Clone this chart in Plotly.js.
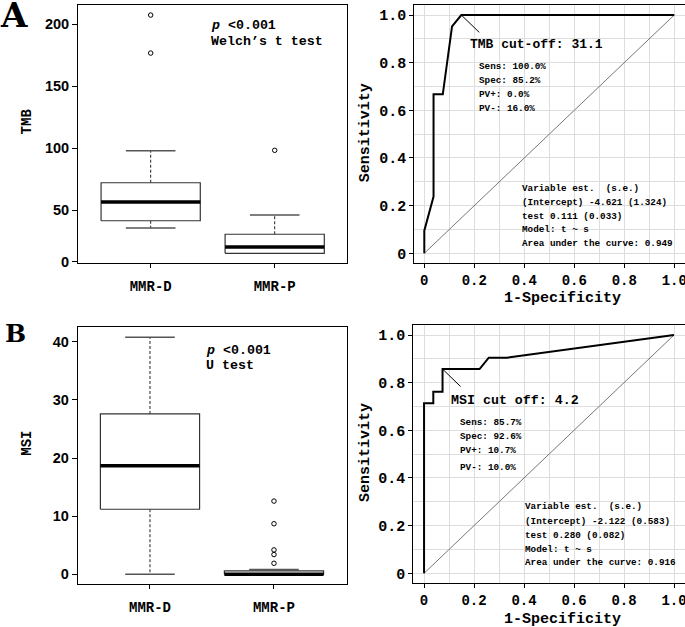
<!DOCTYPE html>
<html><head><meta charset="utf-8">
<script src="https://cdn.plot.ly/plotly-3.0.1.min.js"></script>
<style>html,body{margin:0;padding:0;background:#fff}</style>
</head><body><div id="chart" style="width:685px;height:627px"></div>
<script>
// ---------------- DATA ----------------
const groups = ['MMR-D', 'MMR-P'];
// boxplot stats: [lower whisker, Q1, median, Q3, upper whisker]
const tmbStatsD = [35.7, 41.6, 56.7, 72.2, 98.0];
const tmbStatsP = [15.4, 15.4, 20.5, 30.7, 46.2];
const tmbOutD = [176.6, 207.2];
const tmbOutP = [98.3];
const msiStatsD = [0, 11.2, 18.7, 27.6, 40.8];
const msiStatsP = [0, 0, 0, 0.6, 0.8];
const msiOutD = [];
const msiOutP = [1.9, 3.4, 4.2, 8.7, 12.6];
const tmbTicks = [8.6, 50, 100, 150, 200];
const tmbTickText = ['0', '50', '100', '150', '200'];
const msiTicks = [0, 10, 20, 30, 40];

// ROC curves (1-specificity, sensitivity)
const tmbFpr = [0, 0, 0.037, 0.037, 0.074, 0.111, 0.148, 1];
const tmbTpr = [0, 0.095, 0.238, 0.667, 0.667, 0.952, 1, 1];
const msiFpr = [0, 0, 0.037, 0.037, 0.074, 0.074, 0.222, 0.259, 0.333, 1];
const msiTpr = [0, 0.714, 0.714, 0.762, 0.762, 0.857, 0.857, 0.905, 0.905, 1];
const tmbCut = [0.148, 1.0];   // cut-off point
const msiCut = [0.074, 0.857];
const rocTicks = [0, 0.2, 0.4, 0.6, 0.8, 1.0];
const rocTickText = ['0', '0.2', '0.4', '0.6', '0.8', '1.0'];

const tmbStatsText = ['Sens: 100.0%', 'Spec: 85.2%', 'PV+: 0.0%', 'PV-: 16.0%'];
const msiStatsText = ['Sens: 85.7%', 'Spec: 92.6%', 'PV+: 10.7%', 'PV-: 10.0%'];
const tmbModelText = ['Variable est.  (s.e.)', '(Intercept) -4.621 (1.324)', 'test 0.111 (0.033)', 'Model: t ~ s', 'Area under the curve: 0.949'];
const msiModelText = ['Variable est.  (s.e.)', '(Intercept) -2.122 (0.583)', 'test 0.280 (0.082)', 'Model: t ~ s', 'Area under the curve: 0.916'];

// ---------------- HELPERS ----------------
const W = 685, H = 627;
const PX = x => x / W, PY = y => 1 - y / H;
const MONO = 'Liberation Mono, Courier New, monospace';
const SANS = 'Liberation Sans, Arial, sans-serif';

const traces = [];
function addBox(stats, outs, pos, xa, ya) {
  const [lw, q1, med, q3, uw] = stats;
  const hw = 0.4, cw = 0.2;
  traces.push({x: [pos, pos, null, pos, pos], y: [q3, uw, null, q1, lw], xaxis: xa, yaxis: ya,
    mode: 'lines', line: {color: '#222', width: 1, dash: '3px,2px'}, hoverinfo: 'skip'});
  traces.push({x: [pos - cw, pos + cw, null, pos - cw, pos + cw], y: [uw, uw, null, lw, lw], xaxis: xa, yaxis: ya,
    mode: 'lines', line: {color: '#555', width: 1.6}, hoverinfo: 'skip'});
  traces.push({x: [pos - hw, pos + hw, pos + hw, pos - hw, pos - hw], y: [q1, q1, q3, q3, q1], xaxis: xa, yaxis: ya,
    mode: 'lines', line: {color: '#333', width: 1.2}, fill: 'toself', fillcolor: '#fff', hoverinfo: 'skip'});
  traces.push({x: [pos - hw, pos + hw], y: [med, med], xaxis: xa, yaxis: ya,
    mode: 'lines', line: {color: '#000', width: 3.5}, hoverinfo: 'skip'});
  if (outs.length) traces.push({x: outs.map(() => pos), y: outs, xaxis: xa, yaxis: ya, mode: 'markers',
    marker: {symbol: 'circle-open', size: 4.5, color: '#000', line: {width: 1}}, hoverinfo: 'skip'});
}
addBox(tmbStatsD, tmbOutD, 1, 'x', 'y');
addBox(tmbStatsP, tmbOutP, 2, 'x', 'y');
addBox(msiStatsD, msiOutD, 1, 'x3', 'y3');
addBox(msiStatsP, msiOutP, 2, 'x3', 'y3');

function addRoc(fpr, tpr, cut, xa, ya) {
  traces.push({x: [0, 1], y: [0, 1], xaxis: xa, yaxis: ya, mode: 'lines', line: {color: '#777', width: 1}, hoverinfo: 'skip'});
  traces.push({x: fpr, y: tpr, xaxis: xa, yaxis: ya, mode: 'lines', line: {color: '#000', width: 2}, hoverinfo: 'skip'});
  traces.push({x: [cut[0], cut[0] + 0.072], y: [cut[1], cut[1] - 0.073], xaxis: xa, yaxis: ya, mode: 'lines',
    line: {color: '#000', width: 1}, hoverinfo: 'skip'});
}
addRoc(tmbFpr, tmbTpr, tmbCut, 'x2', 'y2');
addRoc(msiFpr, msiTpr, msiCut, 'x4', 'y4');

function boxX(domain, range, anchor) {
  return {domain, range, anchor, tickmode: 'array', tickvals: [1, 2], ticktext: groups,
    ticks: 'outside', ticklen: 4, tickcolor: '#000', showline: true, mirror: true, linecolor: '#000', linewidth: 1,
    ticklabelstandoff: 6,
    showgrid: false, zeroline: false, tickfont: {family: MONO, size: 14, color: '#000', weight: 'bold'}};
}
function boxY(domain, range, anchor, tv, tt) {
  return {domain, range, anchor, tickmode: 'array', tickvals: tv, ticktext: tt,
    ticks: 'outside', ticklen: 5, tickcolor: '#000', showline: true, mirror: true, linecolor: '#000', linewidth: 1,
    showgrid: false, zeroline: false, tickfont: {family: SANS, size: 14.5, color: '#000', weight: 'bold'}};
}
function rocAx(domain, range, anchor, isX) {
  return {domain, range, anchor, tickmode: 'array', tickvals: rocTicks, ticktext: rocTickText,
    ticks: 'outside', ticklen: 4, tickcolor: '#000', showline: true, mirror: true, linecolor: '#000', linewidth: 1,
    ticklabeloverflow: 'allow',
    showgrid: true, gridcolor: '#dedede', gridwidth: 1, zeroline: false,
    minor: {tickmode: 'linear', tick0: 0, dtick: 0.1, showgrid: true, gridcolor: '#dedede', gridwidth: 1, ticks: ''},
    tickfont: {family: MONO, size: isX ? 14 : 15, color: '#000', weight: 'bold'}};
}

const ann = [];
function t(text, x, y, xref, yref, size, opts) {
  ann.push(Object.assign({text, x, y, xref, yref, showarrow: false, xanchor: 'left', yanchor: 'middle',
    font: {family: MONO, size, color: '#000', weight: 'bold'}}, opts || {}));
}
// box annotations
t('<i>p</i> <0.001', 1.473, 198.4, 'x', 'y', 13.3);
t('Welch\u2019s t test', 1.473, 185.7, 'x', 'y', 13.3);
t('<i>p</i> <0.001', 1.435, 38.6, 'x3', 'y3', 13.3);
t('U test', 1.435, 35.9, 'x3', 'y3', 13.3);
// ROC A
t('TMB cut-off: 31.1', 0.45, 0.877, 'x2', 'y2', 13, {xanchor: 'center'});
[0.785, 0.726, 0.666, 0.607].forEach((yy, i) => t(tmbStatsText[i], 0.21, yy, 'x2', 'y2', 9.3));
[0.273, 0.214, 0.155, 0.098, 0.042].forEach((yy, i) => t(tmbModelText[i], 0.383, yy, 'x2', 'y2', 9.3));
// ROC B
t('MSI cut off: 4.2', 0.363, 0.727, 'x4', 'y4', 13.3, {xanchor: 'center'});
[0.634, 0.575, 0.514, 0.445].forEach((yy, i) => t(msiStatsText[i], 0.137, yy, 'x4', 'y4', 9.3));
[0.279, 0.217, 0.157, 0.101, 0.044].forEach((yy, i) => t(msiModelText[i], 0.395, yy, 'x4', 'y4', 9.3));
// axis titles
t('TMB', PX(26.7), PY(121.7), 'paper', 'paper', 14, {xanchor: 'center', textangle: -90});
t('MSI', PX(26.7), PY(443), 'paper', 'paper', 14, {xanchor: 'center', textangle: -90});
t('Sensitivity', PX(365), PY(133.3), 'paper', 'paper', 15, {xanchor: 'center', textangle: -90});
t('Sensitivity', PX(365), PY(453), 'paper', 'paper', 15, {xanchor: 'center', textangle: -90});
t('1-Specificity', PX(562.5), PY(298), 'paper', 'paper', 15, {xanchor: 'center'});
t('1-Specificity', PX(562.5), PY(619), 'paper', 'paper', 15, {xanchor: 'center'});
// panel letters
ann.push({text: 'A', x: PX(14), y: PY(15), xref: 'paper', yref: 'paper', showarrow: false, xanchor: 'center', yanchor: 'middle',
  font: {family: 'DejaVu Serif', size: 34, color: '#000', weight: 'bold'}});
ann.push({text: 'B', x: PX(15), y: PY(333.5), xref: 'paper', yref: 'paper', showarrow: false, xanchor: 'center', yanchor: 'middle',
  font: {family: 'DejaVu Serif', size: 25, color: '#000', weight: 'bold'}});

const layout = {
  width: W, height: H, margin: {l: 0, r: 0, t: 0, b: 0}, showlegend: false,
  paper_bgcolor: '#fff', plot_bgcolor: '#fff',
  xaxis: boxX([PX(78), PX(347)], [0.414, 2.583], 'y'),
  yaxis: boxY([PY(263.3), PY(5)], [7.33, 215.3], 'x', tmbTicks, tmbTickText),
  xaxis2: rocAx([PX(414.3), PX(684.5)], [-0.04, 1.041], 'y2', true),
  yaxis2: rocAx([PY(263.3), PY(5)], [-0.042, 1.042], 'x2', false),
  xaxis3: boxX([PX(77.7), PX(347)], [0.417, 2.589], 'y3'),
  yaxis3: boxY([PY(584.3), PY(327.3)], [-1.72, 42.51], 'x3', msiTicks, msiTicks.map(String)),
  xaxis4: rocAx([PX(413.3), PX(684.5)], [-0.043, 1.042], 'y4', true),
  yaxis4: rocAx([PY(583.3), PY(325)], [-0.042, 1.042], 'x4', false),
  annotations: ann
};
Plotly.newPlot('chart', traces, layout, {staticPlot: true, displayModeBar: false});
</script></body></html>
